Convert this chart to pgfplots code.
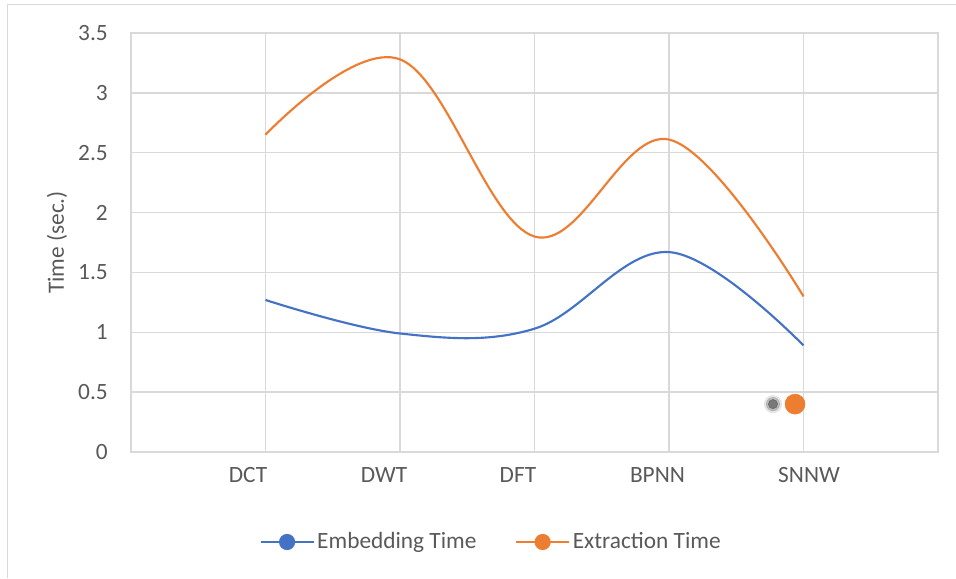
\documentclass[border=0pt]{standalone}
\usepackage{fontspec}
\setmainfont{Carlito}
\usepackage{pgfplots}
\pgfplotsset{compat=1.18}
\definecolor{exblue}{HTML}{4472C4}
\definecolor{exorange}{HTML}{ED7D31}
\definecolor{exgrid}{HTML}{D9D9D9}
\definecolor{extext}{HTML}{595959}
\begin{document}
\fontsize{17.5}{21}\selectfont
\begin{tikzpicture}
\begin{axis}[
  at={(0,0)}, anchor=south west,
  scale only axis,
  width=605.25pt, height=314.25pt,
  xmin=0, xmax=6, ymin=0, ymax=3.5,
  ytick={0,0.5,1,1.5,2,2.5,3,3.5},
  yticklabels={0,0.5,1,1.5,2,2.5,3,3.5},
  xtick={1,2,3,4,5},
  xticklabels={},
  extra x ticks={0.870,1.881,2.877,3.914,5.041},
  extra x tick labels={DCT,DWT,DFT,BPNN,SNNW},
  extra x tick style={grid=none, major tick length=0pt},
  grid=major,
  grid style={exgrid, line width=1pt},
  major grid style={exgrid, line width=1pt},
  axis line style={exgrid, line width=1pt},
  major tick length=0pt,
  tick style={draw=none},
  ticklabel style={font=\fontsize{17.5}{21}\selectfont, text=extext},
  yticklabel style={anchor=east, inner sep=0pt, xshift=-17.25pt},
  xticklabel style={anchor=base, inner sep=0pt, yshift=-22.5pt},
  ylabel={Time (sec.)},
  every axis y label/.style={at={(axis description cs:-0.0917,0.5)}, rotate=90, anchor=center, font=\fontsize{17.5}{21}\selectfont, text=extext},
  legend columns=2,
  legend style={at={(axis description cs:0.4467,-0.2148)}, anchor=center, draw=none, fill=none,
    font=\fontsize{17.5}{21}\selectfont, text=extext,
    /tikz/every even column/.append style={column sep=27pt}},
  legend image code/.code={%
    \draw[#1, line width=1.5pt] (0pt,0pt) -- (39.75pt,0pt);
    \fill[#1] (19.875pt,0pt) circle (5.25pt);},
]
\addplot[exblue, line width=1.6pt, smooth, tension=0.62, mark=none] coordinates {
  (1,1.27) (2,0.99) (3,1.03) (4,1.67) (5,0.89)};
\addlegendentry{Embedding Time}
\addplot[exorange, line width=1.6pt, smooth, tension=0.62, mark=none] coordinates {
  (1,2.65) (2,3.28) (3,1.80) (4,2.61) (5,1.30)};
\addlegendentry{Extraction Time}
\addplot[only marks, mark=*, mark size=6.5pt, color=black!60, opacity=0.15, forget plot] coordinates {(4.773,0.40)};
\addplot[only marks, mark=*, mark size=5pt, color=black!65, opacity=0.3, forget plot] coordinates {(4.773,0.40)};
\addplot[only marks, mark=*, mark size=3.5pt, color=black!70, opacity=0.6, forget plot] coordinates {(4.773,0.40)};
\addplot[only marks, mark=*, mark size=7.5pt, color=exorange, forget plot] coordinates {(4.937,0.40)};
\end{axis}
\begin{scope}[x=0.75pt, y=-0.75pt, shift={(-98.25pt,339pt)}]
  \useasboundingbox (0,0) rectangle (956,578);
  \draw[exgrid, line width=1.2pt] (7.5,578) -- (7.5,4.5) -- (956,4.5);
\end{scope}
\end{tikzpicture}
\end{document}
